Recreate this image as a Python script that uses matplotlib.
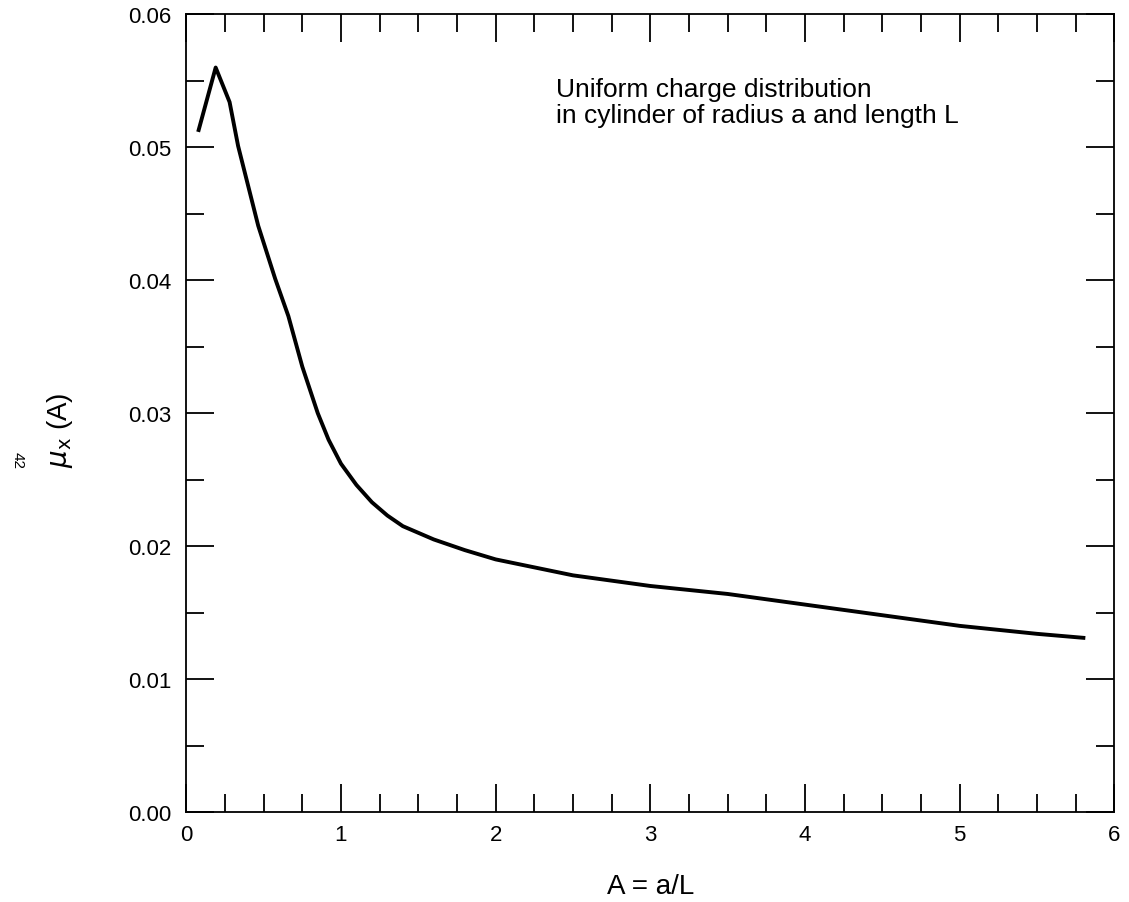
import matplotlib
matplotlib.use("Agg")
import matplotlib.pyplot as plt
import numpy as np
from matplotlib.ticker import MultipleLocator, FormatStrFormatter

plt.rcParams['font.family'] = ['Liberation Sans', 'DejaVu Sans']

# curve
A = [0.08, 0.19, 0.28, 0.335, 0.465, 0.575, 0.66, 0.75, 0.85, 0.92, 1.0,
     1.1, 1.2, 1.3, 1.4, 1.6, 1.8, 2.0, 2.5, 3.0, 3.5, 4.0, 4.5, 5.0, 5.5, 5.8]
mu = [0.0513, 0.0560, 0.0534, 0.0501, 0.0441, 0.0401, 0.0373, 0.0335,
      0.0300, 0.0280, 0.0262, 0.0246, 0.0233, 0.0223, 0.0215, 0.0205,
      0.0197, 0.0190, 0.0178, 0.0170, 0.0164, 0.0156, 0.0148, 0.0140,
      0.0134, 0.0131]

note = "Uniform charge distribution\nin cylinder of radius a and length L"

fig = plt.figure(figsize=(11.29, 9.03), dpi=100)
ax = fig.add_axes([0.165, 0.0997, 0.822, 0.8833])

ax.plot(A, mu, color='black', lw=2.8, solid_joinstyle='round')

ax.set_xlim(0, 6)
ax.set_ylim(0, 0.06)
ax.xaxis.set_major_locator(MultipleLocator(1))
ax.xaxis.set_minor_locator(MultipleLocator(0.25))
ax.yaxis.set_major_locator(MultipleLocator(0.01))
ax.yaxis.set_minor_locator(MultipleLocator(0.005))
ax.yaxis.set_major_formatter(FormatStrFormatter('%.2f'))

ax.tick_params(which='both', direction='in', top=True, right=True,
               width=1.3, colors='black', labelsize=16)
ax.tick_params(which='major', length=20)
ax.tick_params(which='minor', length=13)
ax.tick_params(axis='x', pad=9)
ax.tick_params(axis='y', pad=11)
for s in ax.spines.values():
    s.set_linewidth(1.3)

ax.text(2.39, 0.0515, note, fontsize=19, va='bottom', ha='left',
        linespacing=1.1)

ax.set_xlabel("A = a/L", fontsize=20, labelpad=20)
ax.set_ylabel(r"$\mu_{\mathsf{x}}$ (A)", fontsize=20, labelpad=26)
ax.yaxis.set_label_coords(-0.12, 0.48)

fig.text(0.016, 0.49, "42", rotation=-90, fontsize=11, ha='center', va='center')

fig.savefig("out.png", dpi=100)
